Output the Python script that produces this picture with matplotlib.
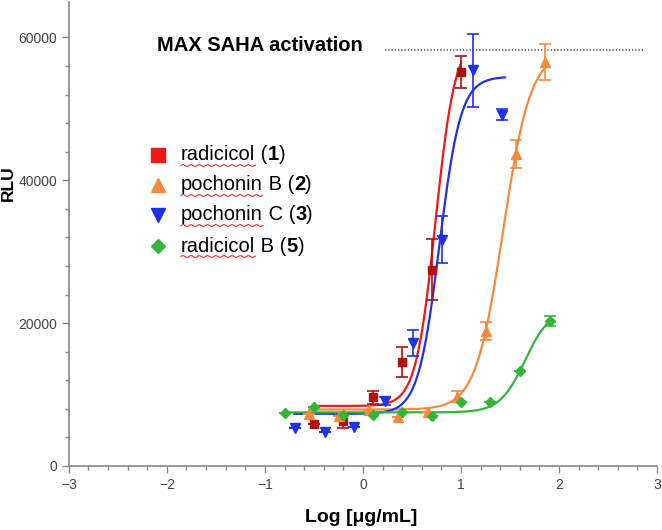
import numpy as np
import matplotlib

matplotlib.use("Agg")
import matplotlib.pyplot as plt

plt.rcParams["font.family"] = ["Liberation Sans", "DejaVu Sans"]

# --- data ---
red_x = [-0.5, -0.2, 0.1, 0.4, 0.7, 1.0]
red_y = [5900, 6300, 9600, 14500, 27500, 55100]
red_err = [0, 1000, 900, 2100, 4300, 2240]

blue_x = [-0.69, -0.39, -0.09, 0.22, 0.51, 0.81, 1.12, 1.42]
blue_y = [5300, 4800, 5400, 9100, 17200, 31700, 55400, 49200]
blue_err = [0, 0, 0, 600, 1800, 3300, 5100, 800]

orange_x = [-0.55, -0.24, 0.06, 0.36, 0.66, 0.96, 1.26, 1.56, 1.86]
orange_y = [7300, 7000, 7800, 6800, 7500, 9700, 18900, 43700, 56600]
orange_err = [0, 0, 0, 0, 0, 800, 1300, 2000, 2500]

green_x = [-0.80, -0.50, -0.20, 0.10, 0.40, 0.70, 1.00, 1.30, 1.60, 1.91]
green_y = [7400, 8300, 7100, 7100, 7600, 7000, 8900, 8900, 13300, 20300]
green_err = [0, 0, 0, 0, 0, 0, 0, 0, 0, 700]

# 4PL fit parameters: bottom, top, logEC50, hill, x-range
fits = {
    "red": (8400, 60000, 0.74, 4.3, -0.5, 1.0),
    "blue": (7300, 54500, 0.78, 4.0, -0.7, 1.45),
    "orange": (7900, 58000, 1.43, 3.1, -0.55, 1.86),
    "green": (7500, 22000, 1.652, 3.4, -0.8, 1.91),
}

labels = ["radicicol", "pochonin", "pochonin", "radicicol"]
suffixes = [" (", " B (", " C (", " B ("]
numbers = ["1", "2", "3", "5"]

max_saha = 58200


def four_pl(x, bottom, top, ec50, hill):
    return bottom + (top - bottom) / (1 + 10 ** ((ec50 - x) * hill))


series = [
    ("red", red_x, red_y, red_err, "s", "#b01010", "#f01818", 5.5),
    ("orange", orange_x, orange_y, orange_err, "^", "#f58a3c", "#f58a3c", 7),
    ("blue", blue_x, blue_y, blue_err, "v", "#1e30e8", "#1e30e8", 7),
    ("green", green_x, green_y, green_err, "D", "#33b53a", "#33b53a", 5.5),
]

fig = plt.figure(figsize=(6.62, 5.30), dpi=100)
ax = fig.add_axes([0.104, 0.1208, 0.8885, 0.876])

for name, xs, ys, errs, marker, mcol, lcol, ms in series:
    b, t, e, h, x0, x1 = fits[name]
    xx = np.linspace(x0, x1, 300)
    ax.plot(xx, four_pl(xx, b, t, e, h), color=lcol, lw=1.6, zorder=2)
    ax.errorbar(xs, ys, yerr=errs, fmt=marker, color=mcol, ms=ms,
                ecolor=mcol, elinewidth=1.2, capsize=4, capthick=1.2, zorder=3)

ax.plot([0.22, 2.88], [max_saha, max_saha], color="#666666", lw=1.3,
        ls=(0, (0.7, 1.1)))
ax.text(-2.1, 58900, "MAX SAHA activation", fontsize=14.5, fontweight="bold",
        va="center", ha="left")

ax.set_xlim(-3, 3)
ax.set_ylim(0, 65000)
ax.set_xticks(np.arange(-3, 4, 1))
ax.set_xticks(np.arange(-3, 3.01, 0.2), minor=True)
ax.set_yticks([0, 20000, 40000, 60000])
ax.set_yticks(np.arange(0, 60001, 4000), minor=True)
for s in ["top", "right"]:
    ax.spines[s].set_visible(False)
for s in ["left", "bottom"]:
    ax.spines[s].set_color("#888888")
    ax.spines[s].set_linewidth(1.2)
ax.tick_params(which="both", direction="out", color="#888888", width=1.0)
ax.tick_params(which="major", length=5, labelsize=10, labelcolor="#444444")
ax.tick_params(which="minor", length=3)

ax.set_xlabel("Log [\u03bcg/mL]", fontsize=14, fontweight="bold", va="center")
ax.xaxis.set_label_coords(0.497, -0.11)
ax.set_ylabel("RLU", fontsize=12.5, fontweight="bold", va="center")
ax.yaxis.set_label_coords(-0.102, 0.609)

# --- manual legend with bold compound numbers and red spell-check underline ---
fig.canvas.draw()
renderer = fig.canvas.get_renderer()
leg_rows_px = [155, 185, 215, 246]
leg_markers = [("s", "#f01818", 9.5), ("^", "#f58a3c", 10.5),
               ("v", "#1e30e8", 10.5), ("D", "#33b53a", 7.5)]
W, H = 662, 530
FS = 14.5
for row, (mk, col, ms), word, suf, num in zip(leg_rows_px, leg_markers,
                                               labels, suffixes, numbers):
    fy = 1 - row / H
    fig.lines.append(plt.Line2D([158 / W], [fy], marker=mk, color=col, ms=ms,
                                transform=fig.transFigure))
    t1 = fig.text(181 / W, fy, word, fontsize=FS, va="center", ha="left")
    bb = t1.get_window_extent(renderer)
    t2 = fig.text(bb.x1 / W, fy, suf, fontsize=FS, va="center", ha="left")
    bb2 = t2.get_window_extent(renderer)
    t3 = fig.text(bb2.x1 / W, fy, num, fontsize=FS, fontweight="bold",
                  va="center", ha="left")
    bb3 = t3.get_window_extent(renderer)
    fig.text(bb3.x1 / W, fy, ")", fontsize=FS, va="center", ha="left")
    # wavy underline
    ux = np.linspace(bb.x0, bb.x1, 80)
    uy = bb.y0 - 1 + 0.9 * np.sin((ux - bb.x0) / 1.3)
    fig.lines.append(plt.Line2D(ux / W, uy / H, color="#e03030", lw=0.8,
                                transform=fig.transFigure))

fig.savefig("out.png", dpi=100)
